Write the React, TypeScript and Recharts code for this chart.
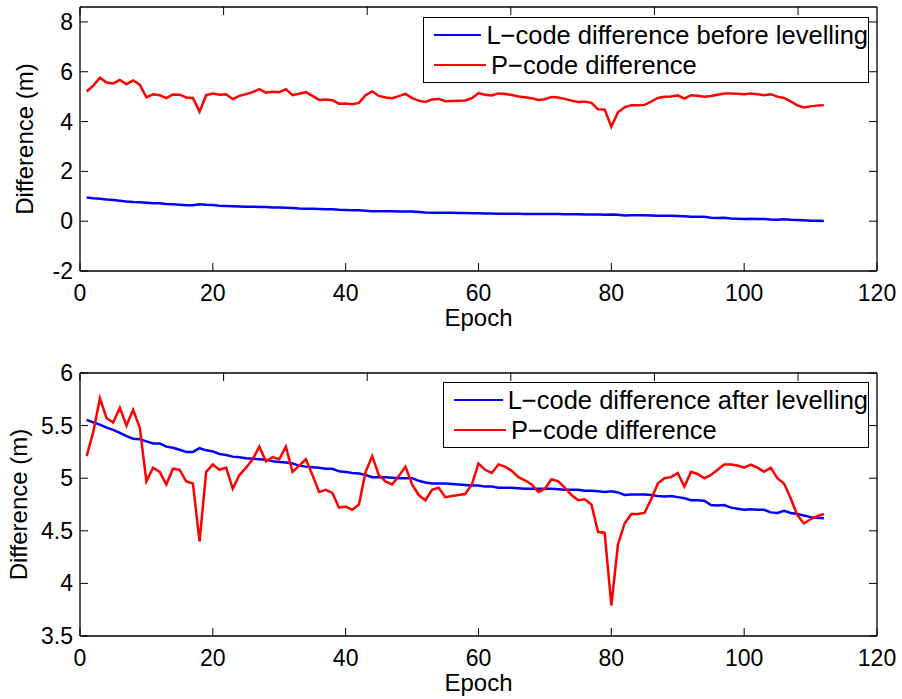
import { LineChart, Line, XAxis, YAxis, Legend } from "recharts";

// epoch index for every sample
const epochs = Array.from({ length: 112 }, (_, i) => i + 1);

// L-code difference before levelling (m)
const lBefore = [
  0.95, 0.92, 0.9, 0.87, 0.85, 0.82, 0.79, 0.77, 0.76, 0.74,
  0.72, 0.72, 0.69, 0.68, 0.66, 0.64, 0.64, 0.68, 0.66, 0.65,
  0.62, 0.61, 0.6, 0.59, 0.58, 0.58, 0.57, 0.57, 0.55, 0.55,
  0.54, 0.53, 0.51, 0.5, 0.5, 0.49, 0.48, 0.48, 0.46, 0.45,
  0.44, 0.44, 0.42, 0.4, 0.4, 0.4, 0.4, 0.39, 0.39, 0.39,
  0.37, 0.35, 0.34, 0.34, 0.34, 0.34, 0.33, 0.33, 0.32, 0.32,
  0.31, 0.31, 0.3, 0.3, 0.3, 0.3, 0.29, 0.29, 0.29, 0.29,
  0.29, 0.29, 0.28, 0.28, 0.28, 0.27, 0.27, 0.27, 0.26, 0.27,
  0.26, 0.23, 0.24, 0.24, 0.24, 0.23, 0.22, 0.22, 0.22, 0.21,
  0.2, 0.18, 0.18, 0.18, 0.14, 0.13, 0.14, 0.11, 0.1, 0.09,
  0.1, 0.09, 0.09, 0.07, 0.06, 0.08, 0.06, 0.05, 0.04, 0.02,
  0.02, 0.01,
];

// L-code difference after levelling (m)
const lAfter = [
  5.555, 5.53, 5.51, 5.48, 5.46, 5.43, 5.4, 5.375, 5.37, 5.35,
  5.33, 5.33, 5.3, 5.29, 5.27, 5.25, 5.25, 5.285, 5.265, 5.255,
  5.23, 5.22, 5.205, 5.2, 5.19, 5.185, 5.18, 5.175, 5.16, 5.155,
  5.15, 5.14, 5.12, 5.11, 5.105, 5.1, 5.09, 5.09, 5.065, 5.06,
  5.05, 5.045, 5.03, 5.01, 5.01, 5.01, 5.005, 5.0, 5.0, 5.0,
  4.975, 4.96, 4.95, 4.95, 4.95, 4.945, 4.94, 4.935, 4.93, 4.93,
  4.92, 4.92, 4.91, 4.91, 4.91, 4.905, 4.9, 4.9, 4.9, 4.9,
  4.9, 4.895, 4.89, 4.89, 4.89, 4.88, 4.88, 4.875, 4.87, 4.875,
  4.865, 4.84, 4.845, 4.845, 4.845, 4.84, 4.83, 4.825, 4.83, 4.82,
  4.81, 4.79, 4.79, 4.785, 4.745, 4.74, 4.745, 4.72, 4.71, 4.7,
  4.705, 4.7, 4.7, 4.675, 4.67, 4.69, 4.67, 4.66, 4.645, 4.63,
  4.625, 4.62,
];

// P-code difference (m), same in both panels
const pCode = [
  5.21, 5.44, 5.76, 5.57, 5.53, 5.67, 5.5, 5.65, 5.48, 4.97,
  5.1, 5.06, 4.94, 5.09, 5.08, 4.97, 4.95, 4.4, 5.06, 5.13,
  5.08, 5.1, 4.9, 5.03, 5.1, 5.18, 5.3, 5.16, 5.2, 5.18,
  5.3, 5.06, 5.12, 5.18, 5.03, 4.87, 4.89, 4.86, 4.72, 4.73,
  4.7, 4.75, 5.06, 5.21, 5.03, 4.97, 4.94, 5.02, 5.11, 4.94,
  4.84, 4.79, 4.89, 4.91, 4.82, 4.83, 4.84, 4.85, 4.94, 5.14,
  5.08, 5.05, 5.13, 5.11, 5.07, 5.01, 4.98, 4.94, 4.87, 4.9,
  4.99, 4.97, 4.91, 4.84, 4.79, 4.8, 4.75, 4.49, 4.48, 3.79,
  4.37, 4.57, 4.66, 4.66, 4.67, 4.8, 4.95, 5.0, 5.01, 5.05,
  4.92, 5.06, 5.04, 5.0, 5.03, 5.08, 5.13, 5.13, 5.12, 5.1,
  5.13, 5.1, 5.06, 5.1, 5.0, 4.95, 4.81, 4.65, 4.57, 4.61,
  4.64, 4.66,
];

const xTicks = [0, 20, 40, 60, 80, 100, 120];
const topYTicks = [-2, 0, 2, 4, 6, 8];
const bottomYTicks = [3.5, 4, 4.5, 5, 5.5, 6];

const topRows = epochs.map((epoch, i) => ({ epoch, l: lBefore[i], p: pCode[i] }));
const bottomRows = epochs.map((epoch, i) => ({ epoch, l: lAfter[i], p: pCode[i] }));

const FONT = "'Liberation Sans', Arial, Helvetica, sans-serif";
const TICK_LEN = 8;
const AXIS = { stroke: "#000", strokeWidth: 1.3 };

// matlab style: ticks point inwards on all four sides
const BottomTick = ({ x, y, payload }: any) => (
  <g>
    <line x1={x} y1={y} x2={x} y2={y - TICK_LEN} stroke="#000" strokeWidth={1} />
    <text x={x} y={y + 30} textAnchor="middle" fontSize={23} fontFamily={FONT} fill="#000">
      {payload.value}
    </text>
  </g>
);

const TopTick = ({ x, y }: any) => (
  <line x1={x} y1={y} x2={x} y2={y + TICK_LEN} stroke="#000" strokeWidth={1} />
);

const LeftTick = ({ x, y, payload }: any) => (
  <g>
    <line x1={x} y1={y} x2={x + TICK_LEN} y2={y} stroke="#000" strokeWidth={1} />
    <text x={x - 7} y={y + 8} textAnchor="end" fontSize={23} fontFamily={FONT} fill="#000">
      {payload.value}
    </text>
  </g>
);

const RightTick = ({ x, y }: any) => (
  <line x1={x} y1={y} x2={x - TICK_LEN} y2={y} stroke="#000" strokeWidth={1} />
);

const EpochTitle = ({ viewBox }: any) => (
  <text
    x={viewBox.x + viewBox.width / 2}
    y={viewBox.y + 55}
    textAnchor="middle"
    fontSize={24}
    fontFamily={FONT}
    fill="#000"
  >
    Epoch
  </text>
);

const DiffTitle = ({ viewBox, gap }: any) => {
  const cx = viewBox.x + viewBox.width - gap;
  const cy = viewBox.y + viewBox.height / 2;
  return (
    <text
      x={cx}
      y={cy}
      transform={`rotate(-90 ${cx} ${cy})`}
      textAnchor="middle"
      dominantBaseline="central"
      fontSize={24}
      fontFamily={FONT}
      fill="#000"
    >
      Difference (m)
    </text>
  );
};

const LegendBox = ({ payload, lineLeft }: any) => (
  <div
    style={{
      border: "1.3px solid #000",
      background: "#fff",
      boxSizing: "border-box",
      padding: "2px 0",
      fontFamily: FONT,
      fontSize: 25.5,
      color: "#000",
      lineHeight: "30px",
    }}
  >
    {(payload || []).map((entry: any) => (
      <div key={entry.value} style={{ display: "flex", alignItems: "center", height: 30 }}>
        <span
          style={{
            display: "inline-block",
            width: 52,
            borderTop: `2.5px solid ${entry.color}`,
            marginLeft: lineLeft,
            marginRight: 5,
          }}
        />
        <span style={{ whiteSpace: "nowrap" }}>{entry.value}</span>
      </div>
    ))}
  </div>
);

// axes take 1px each, so margins are one pixel short of the plot box
const Panel = ({ rows, yDomain, yTicks, lName, height, margin, legendPos, titleGap }: any) => (
  <LineChart width={902} height={height} data={rows} margin={margin}>
    <XAxis
      dataKey="epoch"
      type="number"
      domain={[0, 120]}
      ticks={xTicks}
      interval={0}
      height={1}
      tickSize={0}
      tickMargin={0}
      axisLine={AXIS}
      tickLine={false}
      tick={BottomTick}
      allowDataOverflow
      label={<EpochTitle />}
    />
    <XAxis
      xAxisId="top"
      orientation="top"
      type="number"
      domain={[0, 120]}
      ticks={xTicks}
      interval={0}
      height={1}
      tickSize={0}
      tickMargin={0}
      axisLine={AXIS}
      tickLine={false}
      tick={TopTick}
      allowDataOverflow
    />
    <YAxis
      type="number"
      domain={yDomain}
      ticks={yTicks}
      interval={0}
      width={1}
      tickSize={0}
      tickMargin={0}
      axisLine={AXIS}
      tickLine={false}
      tick={LeftTick}
      allowDataOverflow
      label={<DiffTitle gap={titleGap} />}
    />
    <YAxis
      yAxisId="right"
      orientation="right"
      type="number"
      domain={yDomain}
      ticks={yTicks}
      interval={0}
      width={1}
      tickSize={0}
      tickMargin={0}
      axisLine={AXIS}
      tickLine={false}
      tick={RightTick}
      allowDataOverflow
    />
    <Legend
      layout="horizontal"
      verticalAlign="middle"
      align="center"
      wrapperStyle={{ position: "absolute", left: legendPos.left, top: legendPos.top, width: legendPos.width }}
      content={(props: any) => <LegendBox {...props} lineLeft={10} />}
    />
    <Line
      type="linear"
      dataKey="l"
      name={lName}
      stroke="#0000ff"
      strokeWidth={2.5}
      dot={false}
      activeDot={false}
      isAnimationActive={false}
    />
    <Line
      type="linear"
      dataKey="p"
      name="P−code difference"
      stroke="#ff0000"
      strokeWidth={2.5}
      dot={false}
      activeDot={false}
      isAnimationActive={false}
    />
  </LineChart>
);

export default function App() {
  return (
    <div style={{ position: "absolute", left: 0, top: 0, width: 902, height: 699, background: "#fff" }}>
      <div style={{ position: "absolute", left: 0, top: 0 }}>
        <Panel
          rows={topRows}
          yDomain={[-2, 8.6]}
          yTicks={topYTicks}
          lName="L−code difference before levelling"
          height={345}
          margin={{ top: 6, right: 24, bottom: 73, left: 79 }}
          legendPos={{ left: 423, top: 17, width: 446 }}
          titleGap={56}
        />
      </div>
      <div style={{ position: "absolute", left: 0, top: 345 }}>
        <Panel
          rows={bottomRows}
          yDomain={[3.5, 6]}
          yTicks={bottomYTicks}
          lName="L−code difference after levelling"
          height={354}
          margin={{ top: 27, right: 24, bottom: 62, left: 79 }}
          legendPos={{ left: 443, top: 37, width: 426 }}
          titleGap={62}
        />
      </div>
    </div>
  );
}
